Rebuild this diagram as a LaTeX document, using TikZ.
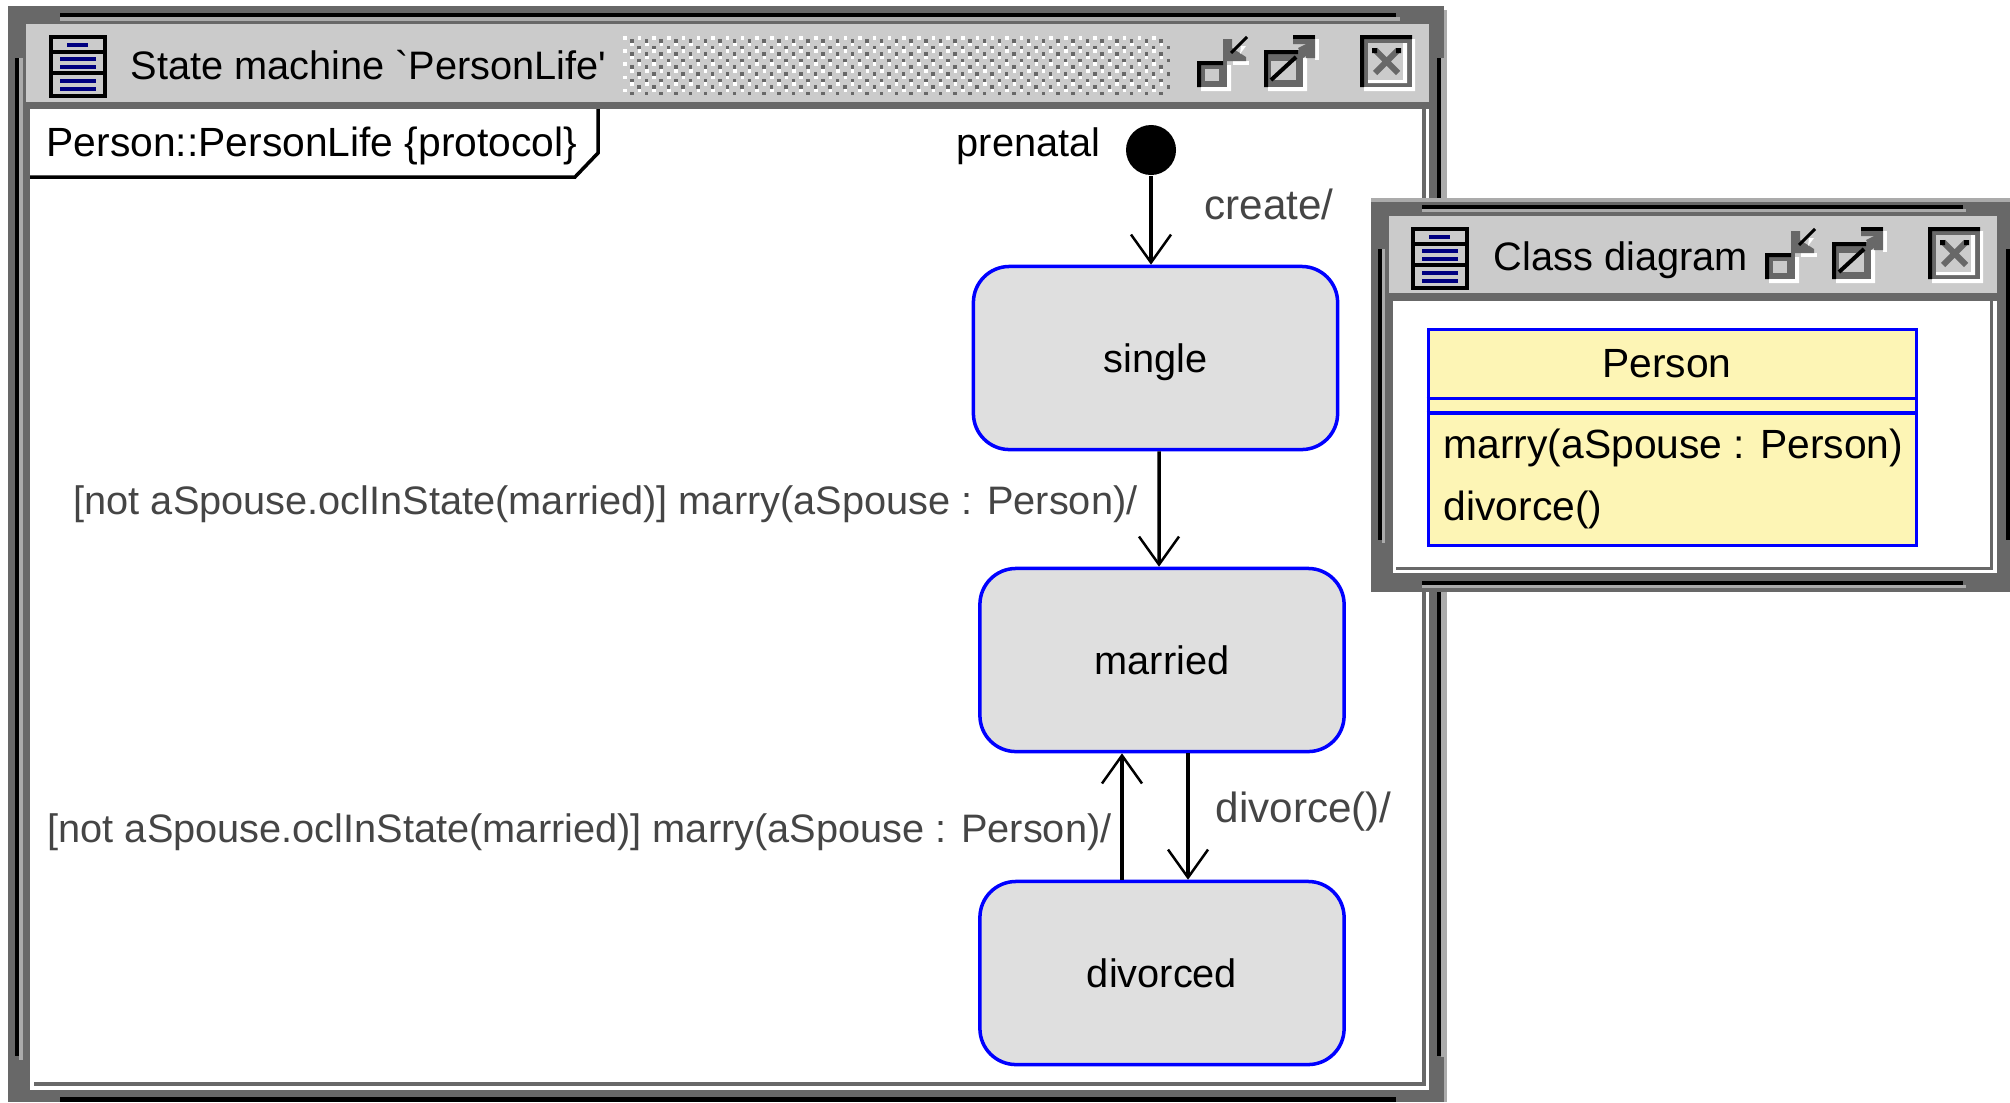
\documentclass[tikz,border=0pt]{standalone}
\usepackage{fontspec}
\setmainfont{Liberation Sans}
\usepackage{tikz}
\definecolor{framegray}{HTML}{686868}
\definecolor{edgegray}{HTML}{ABABAB}
\definecolor{barbg}{HTML}{CBCBCB}
\definecolor{statebg}{HTML}{DFDFDF}
\definecolor{classbg}{HTML}{FDF5B5}
\definecolor{labelgray}{HTML}{454545}
\definecolor{iconblue}{HTML}{000080}
\definecolor{stateblue}{HTML}{0000FF}
\usetikzlibrary{arrows.meta}

\tikzset{
  label/.style={anchor=base west,inner sep=0pt},
  guard/.style={label,text=labelgray},
  shortguard/.style={guard,font=\fontsize{12}{14}\selectfont},
  state/.style={
    rectangle,
    rounded corners=0.36cm,
    minimum width=3.64cm,
    minimum height=1.83cm,
    draw=stateblue,
    fill=statebg,
    text depth=0pt,
    line width=0.035cm},
  trans/.style={-{Straight Barb[length=0.28cm,width=0.4cm,line width=0.025cm]},line width=0.035cm,black},
  bluebar/.style={iconblue,line width=0.035cm}
}

% menu icon of a window, drawn at the place of the first one
\newcommand{\winicon}{
  \draw[black,line width=0.04cm,fill=barbg] (51,37) rectangle (105,96);
  \draw[black,line width=0.04cm] (51,52) -- (105,52) (51,73) -- (105,73);
  \draw[bluebar] (67,45) -- (88,45);
  \draw[bluebar] (60,59) -- (96,59) (60,67) -- (96,67);
  \draw[bluebar] (60,81) -- (96,81) (60,89) -- (96,89);
}

% the three buttons of a window
\newcommand{\winbuttons}{
  \fill[white] (1201,91) rectangle (1227,87) (1227,91) rectangle (1231,65);
  \fill[white] (1233,61) rectangle (1249,65);
  \fill[framegray] (1197,61) rectangle (1227,87);
  \fill[black] (1197,61) rectangle (1201,87) (1197,61) rectangle (1223,65);
  \fill[barbg] (1205,69) rectangle (1219,81);
  \fill[framegray] (1223,39) -- (1232,39) -- (1232,48) -- (1246,57) -- (1246,61) -- (1223,61) -- cycle;
  \draw[black,line width=0.03cm] (1247,37) -- (1231,53);
  \fill[white] (1241,46) -- (1246,46) -- (1240,54) -- cycle;
  %
  \fill[white] (1268,87) rectangle (1307,91) (1303,58) rectangle (1307,91);
  \fill[white] (1315,39) rectangle (1319,60);
  \fill[framegray] (1264,50) rectangle (1303,87);
  \fill[black] (1264,50) rectangle (1268,87) (1264,50) rectangle (1298,54);
  \fill[barbg] (1271,61) rectangle (1296,80);
  \draw[black,line width=0.04cm] (1271,80) -- (1296,57);
  \fill[framegray] (1293,35) -- (1315,35) -- (1315,58) -- (1306,58) -- (1306,44) -- (1293,44) -- cycle;
  \fill[framegray] (1298,48) -- (1306,44) -- (1312,52) -- (1303,58) -- cycle;
  \fill[black] (1293,35) rectangle (1315,39);
  %
  \fill[white] (1364,87) rectangle (1415,91) (1412,39) rectangle (1415,91);
  \fill[framegray] (1360,35) rectangle (1412,87);
  \fill[black] (1360,35) rectangle (1364,87) (1360,35) rectangle (1412,39);
  \fill[barbg] (1368,43) rectangle (1405,80);
  \fill[white] (1403,43) rectangle (1407,82) (1368,80) rectangle (1407,83);
  \draw[framegray,line width=0.06cm] (1375,50) -- (1398,73) (1398,50) -- (1375,73);
  \fill[black] (1372,48) rectangle (1377,53) (1396,48) rectangle (1401,53);
}

\begin{document}
\begin{tikzpicture}[x=0.01cm,y=-0.01cm,font=\fontsize{11.3}{13}\selectfont]
  \useasboundingbox (0,0) rectangle (2010,1102);
  \fill[white] (0,0) rectangle (2010,1102);

  % state machine window
  \fill[edgegray] (1441,10) rectangle (1447,1102);
  \fill[framegray] (8,6) rectangle (1444,1102);
  \fill[edgegray] (1441,58) rectangle (1447,1057);
  \fill[black] (60,13) rectangle (1396,17);
  \fill[edgegray] (60,17) rectangle (1400,21);
  \fill[black] (15,58) rectangle (19,1056);
  \fill[edgegray] (19,58) rectangle (23,1060);
  \fill[black] (1437,58) rectangle (1441,1056);
  \fill[black] (60,1097) rectangle (1396,1102);
  \fill[barbg] (26,24) rectangle (1429,102);
  \fill[white] (30,109) rectangle (1429,1090);
  \fill[framegray] (1422,109) rectangle (1426,1086);
  \fill[framegray] (34,1082) rectangle (1426,1086);

  \winicon
  \node[label] (title) at (130,79) {State machine \textasciigrave PersonLife\textquotesingle};
  \foreach \r in {0,...,8} {
    \foreach \c in {0,...,36} {
      \fill[white] ({623+\c*14.7+mod(\r,2)*7.3},{36+\r*6.6}) rectangle +(3.5,3.5);
      \fill[framegray] ({630+\c*14.7+mod(\r,2)*7.3},{39+\r*6.6}) rectangle +(3.5,3.5);
    }
  }
  \winbuttons

  \draw[black,line width=0.035cm] (598,109) -- (598,153) -- (575,177) -- (30,177);
  \node[label,font=\fontsize{11.6}{14}\selectfont] (frame) at (46,156) {Person::PersonLife \{protocol\}};

  \node[label] (prenatal) at (956,156) {prenatal};
  \node[circle,fill=black,minimum size=0.5cm,inner sep=0pt] (init) at (1151,150) {};

  \node[state] (single) at (1155.5,358) {single};
  \node[state] (married) at (1162,660) {married};
  \node[state] (divorced) at (1162,973) {divorced};

  \draw[trans] (init.south) -- (init.south |- single.north);
  \draw[trans] ([xshift=0.035cm]single.south) -- ([xshift=-0.03cm]married.north);
  \draw[trans] ([xshift=-0.40cm]divorced.north) -- ([xshift=-0.40cm]married.south);
  \draw[trans] ([xshift=0.26cm]married.south) -- ([xshift=0.26cm]divorced.north);

  \node[shortguard] (create) at (1204,219) {create/};
  \node[guard] (marry) at (73,514) {[not aSpouse.oclInState(married)] marry(aSpouse : Person)/};
  \node[guard] (remarry) at (47,842) {[not aSpouse.oclInState(married)] marry(aSpouse : Person)/};
  \node[shortguard] (divorce) at (1215,822) {divorce()/};

  % class diagram window
  \fill[edgegray] (1371,198) rectangle (2010,202);
  \fill[framegray] (1371,202) rectangle (2010,592);
  \fill[black] (1422,205) rectangle (1963,209);
  \fill[edgegray] (1422,209) rectangle (1966,212);
  \fill[black] (1378,249) rectangle (1382,540);
  \fill[edgegray] (1382,249) rectangle (1385,543);
  \fill[black] (2006,249) rectangle (2010,540);
  \fill[black] (1422,581) rectangle (1963,585);
  \fill[edgegray] (1422,585) rectangle (1966,588);
  \fill[barbg] (1389,216) rectangle (1997,293);
  \fill[white] (1393,301) rectangle (1997,573);
  \fill[framegray] (1990,301) rectangle (1993,570);
  \fill[framegray] (1396,567) rectangle (1993,570);

  \begin{scope}[shift={(1362,192)}]
    \winicon
  \end{scope}
  \node[label] (classtitle) at (1493,270) {Class diagram};
  \begin{scope}[shift={(568,192)}]
    \winbuttons
  \end{scope}

  \node[rectangle,draw=stateblue,fill=classbg,line width=0.035cm,minimum width=4.88cm,minimum height=2.16cm] (person) at (1672.5,437.5) {};
  \draw[stateblue,line width=0.03cm] (person.west |- 0,398) -- (person.east |- 0,398);
  \draw[stateblue,line width=0.04cm] (person.west |- 0,413) -- (person.east |- 0,413);
  \node[anchor=base,inner sep=0pt,font=\fontsize{11.6}{14}\selectfont] (classname) at (1667,377) {Person};
  \node[label,font=\fontsize{11.6}{14}\selectfont] (opmarry) at (1443,458) {marry(aSpouse : Person)};
  \node[label,font=\fontsize{11.6}{14}\selectfont] (opdivorce) at (1443,520) {divorce()};

\end{tikzpicture}
\end{document}
